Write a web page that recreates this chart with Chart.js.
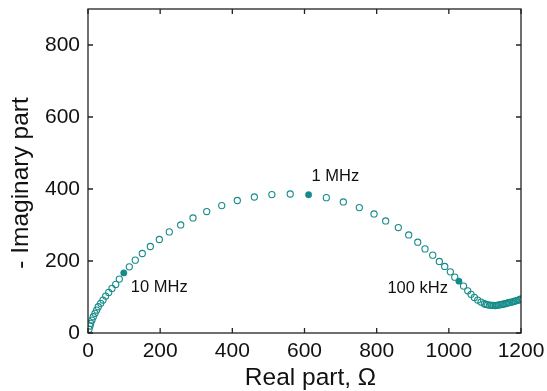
<!DOCTYPE html>
<html>
<head>
<meta charset="utf-8">
<script src="https://cdn.jsdelivr.net/npm/chart.js@4.4.1/dist/chart.umd.min.js"></script>
<style>
html,body{margin:0;padding:0;background:#fff;}
#wrap{width:547px;height:391px;position:relative;}
</style>
</head>
<body>
<div id="wrap"><canvas id="c" width="547" height="391"></canvas></div>
<script>
// Real part (Ω) of impedance points
const realPart = [2.8,5.5,7.5,11,14.7,19.4,24,28.5,35.2,41.6,49,57.4,66.5,76.8,86.8,99.2,114.5,131,150.5,172.7,197.7,225.3,256.9,291,329,370.6,413.8,461,509.6,560.4,611.4,660.5,707.6,751.9,792.7,825,860,888.8,913.8,934,955.4,973.7,988.6,1004.2,1016.4,1028,1040.8,1052.4,1061.5,1070.7,1080,1089.2,1098.4,1103,1107.8,1113,1118.9,1123,1128,1132,1137.2,1142,1146.6,1151,1155.8,1160,1164.9,1169,1174.4,1179,1183.5,1188,1192.7,1197,1202];
// - Imaginary part (Ω)
const imagPart = [10.3,19.4,26.9,36,45.2,54.6,63.7,72.9,82.3,91.5,102.5,112.8,123.9,135,149.7,167,183.8,202.3,220.9,240.3,259.7,280.8,300.2,319.6,337.3,353.9,368,377.8,384.4,386.1,384,376,364,348.4,330.7,311.2,292.9,272.4,252.2,233.6,216.2,198.7,184.9,169.9,155.2,144,130.3,117.2,107.3,98.9,91.5,85.9,81.2,79.5,78.4,77.5,76.8,76.5,76.3,77,77.6,78.5,79.5,80.4,81.2,82.5,84,85,85.9,87.3,88.7,90,91.5,93,95];
// Marked frequencies (index into arrays above) and their labels
const markedIdx = [15, 30, 45];
const markedLabels = ["10 MHz", "1 MHz", "100 kHz"];
const xTicks = [0,200,400,600,800,1000,1200];
const yTicks = [0,200,400,600,800];
const xTitle = 'Real part, Ω';
const yTitle = '- Imaginary part';

const teal = '#148b88';
const pts = realPart.map((x,i)=>({x:x, y:imagPart[i]}));
const openPts = pts.filter((p,i)=>!markedIdx.includes(i));
const filledPts = markedIdx.map(i=>pts[i]);

const FONT = "'Liberation Sans', Arial, sans-serif";

const frameTicks = {
  id:'frameTicks',
  afterDatasetsDraw(chart){
    const {ctx, chartArea:a, scales:{x, y}} = chart;
    ctx.save();
    ctx.strokeStyle = '#222';
    ctx.lineWidth = 1.3;
    ctx.strokeRect(a.left, a.top, a.right-a.left, a.bottom-a.top);
    const L = 5;
    ctx.beginPath();
    xTicks.forEach(v=>{
      const px = x.getPixelForValue(v);
      ctx.moveTo(px, a.bottom); ctx.lineTo(px, a.bottom-L);
      ctx.moveTo(px, a.top); ctx.lineTo(px, a.top+L);
    });
    yTicks.forEach(v=>{
      const py = y.getPixelForValue(v);
      ctx.moveTo(a.left, py); ctx.lineTo(a.left+L, py);
      ctx.moveTo(a.right, py); ctx.lineTo(a.right-L, py);
    });
    ctx.stroke();
    // labels next to marked points
    ctx.fillStyle = '#111';
    ctx.font = "16.5px " + FONT;
    ctx.textBaseline = 'middle';
    const offs = [[7,15,'left'],[3,-18,'left'],[-11,7,'right']];
    markedIdx.forEach((idx,k)=>{
      const px = x.getPixelForValue(realPart[idx]);
      const py = y.getPixelForValue(imagPart[idx]);
      ctx.textAlign = offs[k][2];
      ctx.fillText(markedLabels[k], px+offs[k][0], py+offs[k][1]);
    });
    // axis titles
    ctx.font = "24.5px " + FONT;
    ctx.textAlign = 'center';
    ctx.textBaseline = 'middle';
    ctx.fillText(xTitle, (a.left+a.right)/2 + 6, a.bottom + 45);
    ctx.save();
    ctx.translate(a.left - 67, (a.top+a.bottom)/2 + 12);
    ctx.rotate(-Math.PI/2);
    ctx.fillText(yTitle, 0, 0);
    ctx.restore();
    ctx.restore();
  }
};

new Chart(document.getElementById('c'), {
  type:'scatter',
  data:{datasets:[
    {data:openPts, pointRadius:3.1, pointBorderWidth:1.1, pointBorderColor:teal, pointBackgroundColor:'rgba(255,255,255,0)', showLine:false},
    {data:filledPts, pointRadius:3.2, pointBorderWidth:0.5, pointBorderColor:teal, pointBackgroundColor:teal, showLine:false}
  ]},
  options:{
    responsive:false, animation:false,
    layout:{padding:{top:9, right:26, left:0, bottom:0}},
    plugins:{legend:{display:false}, tooltip:{enabled:false}},
    scales:{
      x:{type:'linear', min:0, max:1200,
        afterBuildTicks(s){ s.ticks = xTicks.map(v=>({value:v})); },
        afterFit(s){ s.height = 58; s.paddingLeft = 0; s.paddingRight = 0; },
        grid:{display:false, drawTicks:false},
        border:{display:false},
        ticks:{padding:6, color:'#111', font:{family:FONT, size:21}, maxRotation:0, autoSkip:false, callback:v=>String(v)},
        title:{display:false}
      },
      y:{type:'linear', min:0, max:900,
        afterBuildTicks(s){ s.ticks = yTicks.map(v=>({value:v})); },
        afterFit(s){ s.width = 88; s.paddingTop = 0; s.paddingBottom = 0; },
        grid:{display:false, drawTicks:false},
        border:{display:false},
        ticks:{padding:8, color:'#111', font:{family:FONT, size:21}, autoSkip:false, callback:v=>String(v)},
        title:{display:false}
      }
    }
  },
  plugins:[frameTicks]
});
</script>
</body>
</html>
